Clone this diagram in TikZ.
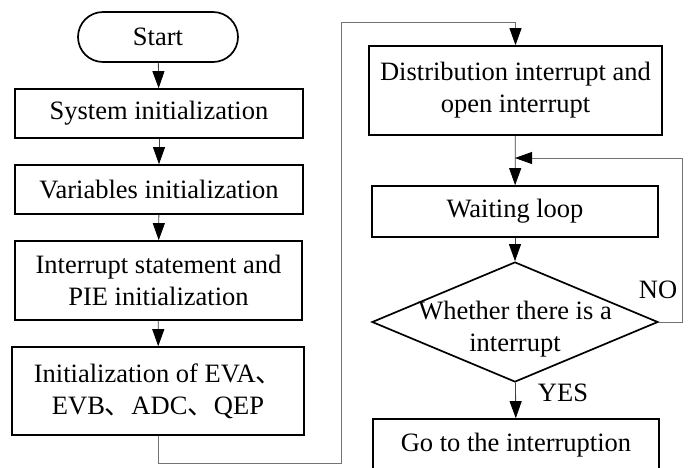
\documentclass[tikz,border=0pt]{standalone}
\usepackage{fontspec}
\setmainfont{Liberation Serif}
\newfontfamily\cjk{Noto Sans CJK SC}
\usetikzlibrary{arrows.meta,shapes.geometric,positioning}
\newcommand{\dun}{{\cjk 、}}
\tikzset{
  box/.style={draw=black, line width=1.7pt, rectangle, align=center, inner sep=0pt,
    font=\fontsize{26.5}{32}\selectfont},
  term/.style={box, rounded corners=25pt},
  dec/.style={draw=black, line width=1.7pt, diamond, align=center, inner sep=0pt,
    font=\fontsize{26.5}{32}\selectfont},
  lbl/.style={font=\fontsize{26.5}{32}\selectfont, inner sep=0pt},
  conn/.style={draw=black!75, line width=0.8pt, -{Triangle[width=12pt,length=17pt,color=black]}},
  gconn/.style={draw=black!55, line width=0.8pt},
}
\begin{document}
\begin{tikzpicture}[x=1pt,y=-1pt]
\clip (0,0) rectangle (688,467);
\fill[white] (0,0) rectangle (688,467);
% left column
\node[term, minimum width=160pt, minimum height=50pt] (start) at (158,37) {Start};
\node[box, minimum width=288pt, minimum height=49pt] (sys) at (159,113.5) {System initialization};
\node[box, minimum width=288pt, minimum height=49pt] (var) at (159,189.5) {Variables initialization};
\node[box, minimum width=287pt, minimum height=79pt] (ints) at (158.5,280.5) {Interrupt statement and\\PIE initialization};
\node[box, minimum width=292pt, minimum height=88pt] (eva) at (158,391) {Initialization of EVA\dun\\ EVB\dun ADC\dun QEP};
% right column
\node[box, minimum width=293pt, minimum height=89pt] (dist) at (515.5,90.5) {Distribution interrupt and\\open interrupt};
\node[box, minimum width=286pt, minimum height=51pt] (wait) at (515,211.5) {Waiting loop};
\node[dec, minimum width=286pt, minimum height=120pt] (dec) at (515,322) {};
\node[lbl, align=center] (dectext) at (515,329) {Whether there is a\\interrupt};
\node[box, minimum width=286pt, minimum height=52pt] (go) at (516,445) {Go to the interruption};
\node[lbl] (no) at (658,290) {NO};
\node[lbl] (yes) at (563,393) {YES};
% helper coordinates
\coordinate (c1) at (341,463);
\coordinate (c2) at (341,22);
\coordinate (c3) at (682,158);
\coordinate (c4) at (515,158);
% connectors
\draw[conn] (start) -- (sys);
\draw[conn] (sys) -- (var);
\draw[conn] (var) -- (ints);
\draw[conn] (ints) -- (eva);
\draw[gconn] (eva.south) |- (c1) -- (c2);
\draw[conn, draw=black!55] (c2) -| (dist.north);
\draw[conn] (dist) -- (wait);
\draw[conn] (wait) -- (dec);
\draw[conn] (dec) -- (go);
\draw[gconn] (dec.east) -| (c3);
\draw[conn, draw=black!55] (c3) -- (c4);
\end{tikzpicture}
\end{document}
